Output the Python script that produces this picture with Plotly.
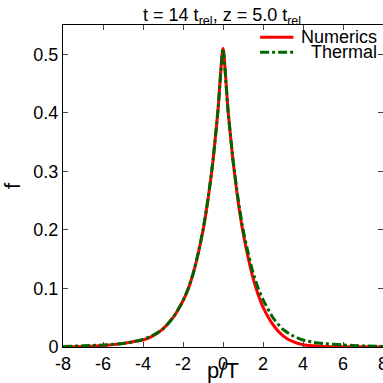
import plotly.graph_objects as go

p_num = [-8, -7, -6, -5, -4.5, -4, -3.5, -3, -2.5, -2, -1.75, -1.5, -1.25, -1, -0.75, -0.5, -0.25, 0,
         0.25, 0.5, 0.75, 1, 1.25, 1.5, 1.75, 2, 2.5, 3, 3.5, 4, 4.5, 5, 6, 7, 8]
f_num = [0.0005, 0.001, 0.0025, 0.006, 0.009, 0.012, 0.019, 0.031, 0.050, 0.079, 0.098, 0.124, 0.158, 0.199, 0.252, 0.318, 0.405, 0.51,
         0.405, 0.318, 0.250, 0.196, 0.154, 0.118, 0.090, 0.068, 0.038, 0.019, 0.009, 0.004, 0.002, 0.001, 0.0005, 0.0003, 0.0002]

p_th = [-8, -7, -6, -5, -4.5, -4, -3.5, -3, -2.5, -2, -1.75, -1.5, -1.25, -1, -0.75, -0.5, -0.25, 0,
        0.25, 0.5, 0.75, 1, 1.25, 1.5, 1.75, 2, 2.5, 3, 3.5, 4, 4.5, 5, 6, 7, 8]
f_th = [0.001, 0.002, 0.0035, 0.006, 0.009, 0.013, 0.020, 0.031, 0.050, 0.079, 0.099, 0.125, 0.159, 0.200, 0.253, 0.319, 0.404, 0.51,
        0.404, 0.320, 0.254, 0.201, 0.162, 0.127, 0.101, 0.081, 0.050, 0.030, 0.019, 0.012, 0.008, 0.006, 0.0035, 0.002, 0.001]

series_names = ["Numerics", "Thermal"]
series_colors = ["#ff0000", "#006400"]
series_dash = ["solid", "9px,3px,3px,3px"]

x_ticks = [-8, -6, -4, -2, 0, 2, 4, 6, 8]
x_tick_labels = ["-8", "-6", "-4", "-2", "0", "2", "4", "6", "8"]
y_ticks = [0, 0.1, 0.2, 0.3, 0.4, 0.5]
y_tick_labels = ["0", "0.1", "0.2", "0.3", "0.4", "0.5"]

FONT = "Liberation Sans, Arial, Helvetica, sans-serif"
FS = 18

fig = go.Figure()
for xs, ys, name, col, dash in zip([p_num, p_th], [f_num, f_th], series_names, series_colors, series_dash):
    fig.add_trace(go.Scatter(x=xs, y=ys, mode="lines", name=name, showlegend=False,
                             line=dict(color=col, width=3, dash=dash, shape="spline", smoothing=0.6)))

# legend drawn manually (right-aligned text like the reference)
leg_y = [0.962, 0.915]
for name, col, dash, ly in zip(series_names, series_colors, series_dash, leg_y):
    fig.add_shape(type="line", xref="paper", yref="paper", x0=0.616, x1=0.72, y0=ly, y1=ly,
                  line=dict(color=col, width=3, dash=dash))
    fig.add_annotation(text=name, xref="paper", yref="paper", x=0.987, y=ly, xanchor="right",
                       yanchor="middle", showarrow=False, font=dict(size=FS, color="black"))

fig.update_layout(
    width=383, height=383,
    margin=dict(l=63, r=0, t=25, b=36),
    paper_bgcolor="white", plot_bgcolor="white",
    font=dict(family=FONT, size=FS, color="black"),
    title=dict(text="t = 14 t<sub>rel</sub>, z = 5.0 t<sub>rel</sub>", x=0.58, xanchor="center",
               y=0.962, yanchor="middle", font=dict(size=FS)),
    showlegend=False,
)
fig.update_xaxes(range=[-8, 8], tickvals=x_ticks, ticktext=x_tick_labels, ticks="inside", ticklen=5,
                 showline=True, linecolor="black", linewidth=1, mirror="ticks", showgrid=False, zeroline=False,
                 automargin=False, ticklabeloverflow="allow", title=dict(text="p/T", standoff=6),
                 tickfont=dict(size=FS))
fig.update_yaxes(range=[0, 0.55], tickvals=y_ticks, ticktext=y_tick_labels, ticks="inside", ticklen=5,
                 showline=True, linecolor="black", linewidth=1, mirror="ticks", showgrid=False, zeroline=False,
                 automargin=False, title=dict(text="f", standoff=10), tickfont=dict(size=FS))

fig.write_html("out.html", config={"displayModeBar": False},
               post_script="document.body.style.margin='0';document.body.style.overflow='hidden';")
